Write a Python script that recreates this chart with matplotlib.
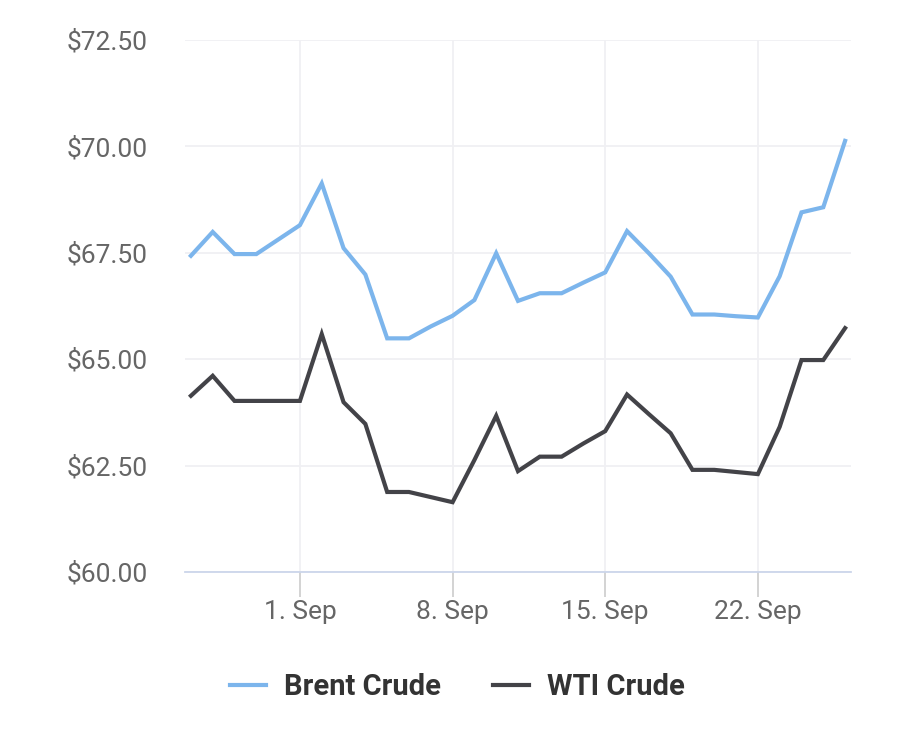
import matplotlib
matplotlib.use("Agg")
import matplotlib.pyplot as plt
import numpy as np
import pandas as pd

# daily closes, 27 Aug - 26 Sep
dates = pd.date_range("2018-08-27", "2018-09-26", freq="D")
brent = [67.43, 67.99, 67.47, 67.47, 67.81, 68.15, 69.13, 67.61, 66.99, 65.49,
         65.49, 65.77, 66.02, 66.39, 67.49, 66.37, 66.55, 66.55, 66.80, 67.04,
         68.01, 67.49, 66.94, 66.05, 66.05, 66.01, 65.98, 66.95, 68.45, 68.57,
         70.13]
wti = [64.14, 64.61, 64.02, 64.02, 64.02, 64.02, 65.59, 63.99, 63.48, 61.88,
       61.88, 61.76, 61.64, 62.63, 63.67, 62.37, 62.71, 62.71, 63.02, 63.31,
       64.17, 63.71, 63.26, 62.40, 62.40, 62.35, 62.30, 63.41, 64.98, 64.98,
       65.73]
tick_days = ["2018-09-01", "2018-09-08", "2018-09-15", "2018-09-22"]
yticks = [60, 62.5, 65, 67.5, 70, 72.5]

plt.rcParams['font.family'] = ['Roboto', 'DejaVu Sans']

fig = plt.figure(figsize=(9, 7.43), dpi=100)
ax = fig.add_axes([185/900, 1-572/743, (851-185)/900, (572-40)/743])

ax.plot(dates, brent, color="#7cb5ec", lw=3, label="Brent Crude", solid_joinstyle="miter")
ax.plot(dates, wti, color="#434348", lw=3, label="WTI Crude", solid_joinstyle="miter")

pad = pd.Timedelta(hours=6.5)
ax.set_xlim(dates[0] - pad, dates[-1] + pad)
ax.set_ylim(60, 72.5)

ax.set_yticks(yticks)
ax.set_yticklabels(["$%.2f" % v for v in yticks])
ax.set_xticks(pd.to_datetime(tick_days))
ax.set_xticklabels(["%d. %s" % (d.day, d.strftime("%b")) for d in pd.to_datetime(tick_days)])

ax.grid(True, color="#f0f0f3", lw=1.3)
ax.set_axisbelow(True)
for s in ["top", "right", "left"]:
    ax.spines[s].set_visible(False)
ax.spines["bottom"].set_color("#ccd6eb")
ax.spines["bottom"].set_linewidth(1.3)

ax.tick_params(axis="y", length=0, pad=27, labelsize=19, labelcolor="#666666")
ax.tick_params(axis="x", length=18, width=1.2, color="#cccccc", pad=2,
               labelsize=19, labelcolor="#666666")

fig.legend(loc="center", bbox_to_anchor=(0.508, 0.075), ncol=2, frameon=False,
           prop={"weight": "bold", "size": 21}, handlelength=1.25,
           columnspacing=1.8, handletextpad=0.6, labelcolor="#333333")

fig.savefig("out.png", dpi=100)
